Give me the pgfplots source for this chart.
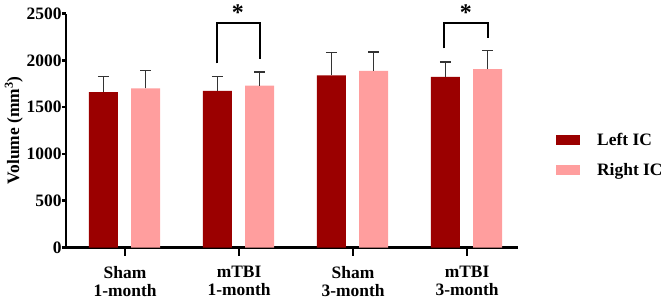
\documentclass[border=0pt]{standalone}
\usepackage{fontspec}
\setmainfont{Liberation Serif}
\usepackage{pgfplots}
\pgfplotsset{compat=1.18}
\definecolor{leftc}{HTML}{9B0000}
\definecolor{rightc}{HTML}{FF9E9E}
\begin{document}
\begin{tikzpicture}
\begin{axis}[
  scale only axis,
  width=452bp, height=234bp,
  xmin=-0.518, xmax=3.447,
  ymin=0, ymax=2500,
  ytick={0,500,1000,1500,2000,2500},
  xtick={0,1,2,3},
  xticklabels={{Sham\\1-month},{mTBI\\1-month},{Sham\\3-month},{mTBI\\3-month}},
  axis x line=bottom, axis y line=left,
  axis line style={-, line width=2.5bp, black},
  tick style={line width=2.5bp, black},
  tick align=outside,
  major tick length=4bp,
  /pgf/number format/assume math mode=true,
  /pgf/number format/set thousands separator={},
  ticklabel style={font=\fontsize{17.5}{18}\selectfont\bfseries},
  xticklabel style={align=center, yshift=-11bp},
  yticklabel style={xshift=3bp},
  ylabel={Volume (mm\textsuperscript{3})},
  ylabel style={font=\fontsize{17.5}{18}\selectfont\bfseries},
  ylabel shift=-3bp,
  clip=false,
  ybar, bar width=0.254,
  legend style={at={(rel axis cs:1.084,0.395)}, anchor=west, draw=none, fill=none,
    font=\fontsize{17.5}{18}\selectfont\bfseries, row sep=12bp, column sep=15bp, inner sep=0pt},
  legend cell align=left,
  legend image code/.code={\fill[#1] (0bp,-5bp) rectangle (24bp,5bp);},
  error bars/y dir=plus, error bars/y explicit,
  error bars/error bar style={line width=1.5bp, black!80},
  error bars/error mark options={rotate=90, line width=1.5bp, black!80, mark size=5.5bp},
]
\addplot[fill=leftc, draw=none, bar shift=-0.19] coordinates {
  (0,1659) +- (0,167)
  (1,1673) +- (0,153)
  (2,1840) +- (0,246)
  (3,1823) +- (0,160)
};
\addlegendentry{Left IC}
\addplot[fill=rightc, draw=none, bar shift=0.18] coordinates {
  (0,1701) +- (0,189)
  (1,1730) +- (0,146)
  (2,1887) +- (0,203)
  (3,1905) +- (0,199)
};
\addlegendentry{Right IC}
\addplot[sharp plot, black, line width=2bp, forget plot, no marks] coordinates {
  (0.81,1967) (0.81,2401) (1.18,2401) (1.18,2010)
};
\addplot[sharp plot, black, line width=2bp, forget plot, no marks] coordinates {
  (2.80,2127) (2.80,2401) (3.18,2401) (3.18,2241)
};
\addplot[only marks, forget plot, mark=|, mark size=4bp, mark options={yshift=-4bp, line width=2.5bp, black}] coordinates {
  (0,0) (1,0) (2,0) (3,0)
};
\node[anchor=base, inner sep=0pt, font=\fontsize{24}{24}\selectfont\bfseries] at (axis cs:0.99,2430) {*};
\node[anchor=base, inner sep=0pt, font=\fontsize{24}{24}\selectfont\bfseries] at (axis cs:2.99,2430) {*};
\end{axis}
\pgfresetboundingbox
\path ([xshift=-66bp,yshift=-51.5bp]current axis.south west) rectangle ([xshift=146bp,yshift=13.5bp]current axis.north east);
\end{tikzpicture}
\end{document}
